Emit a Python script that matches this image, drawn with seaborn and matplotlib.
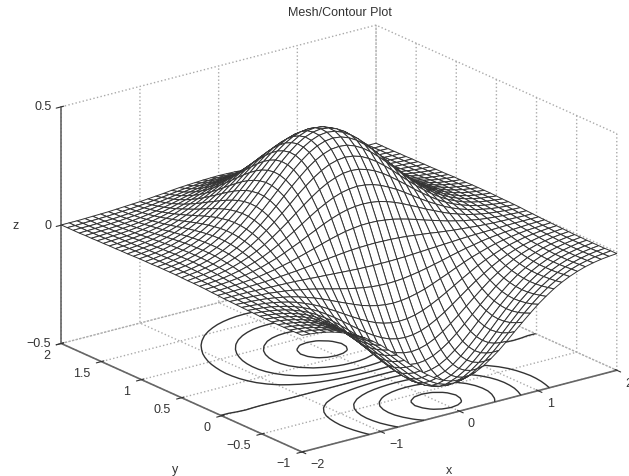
import numpy as np
import matplotlib
matplotlib.use('Agg')
import matplotlib.pyplot as plt
import seaborn as sns

# grid positions of the mesh
x_half = [-2, -1.9, -1.8, -1.7, -1.6, -1.5, -1.4, -1.3, -1.2, -1.1, -1, -0.9, -0.8, -0.7, -0.6, -0.5, -0.4, -0.3, -0.2, -0.1, 0]
y_vals = [-1, -0.925, -0.85, -0.775, -0.7, -0.625, -0.55, -0.475, -0.4, -0.325, -0.25, -0.175, -0.1, -0.025,
          0.05, 0.125, 0.2, 0.275, 0.35, 0.425, 0.5, 0.575, 0.65, 0.725, 0.8, 0.875, 0.95, 1.025, 1.1, 1.175,
          1.25, 1.325, 1.4, 1.475, 1.55, 1.625, 1.7, 1.775, 1.85, 1.925, 2]

# surface heights for x <= 0, one row per y value (the mesh is mirrored around x=0)
z_half = [
    [-.007, -.010, -.014, -.020, -.028, -.039, -.052, -.068, -.087, -.110, -.135, -.164, -.194, -.225, -.257, -.287, -.313, -.336, -.353, -.364, -.368],
    [-.007, -.011, -.015, -.022, -.030, -.041, -.055, -.073, -.093, -.117, -.145, -.175, -.207, -.241, -.274, -.306, -.335, -.359, -.378, -.389, -.393],
    [-.008, -.011, -.016, -.023, -.032, -.043, -.058, -.076, -.098, -.123, -.152, -.184, -.218, -.253, -.288, -.321, -.352, -.377, -.397, -.409, -.413],
    [-.008, -.012, -.017, -.024, -.033, -.045, -.060, -.078, -.101, -.127, -.156, -.189, -.224, -.260, -.297, -.331, -.362, -.388, -.408, -.421, -.425],
    [-.008, -.012, -.017, -.024, -.033, -.045, -.060, -.079, -.102, -.128, -.158, -.191, -.226, -.263, -.299, -.334, -.365, -.392, -.412, -.425, -.429],
    [-.008, -.011, -.017, -.024, -.033, -.045, -.060, -.078, -.100, -.126, -.156, -.188, -.223, -.259, -.295, -.329, -.360, -.386, -.406, -.419, -.423],
    [-.007, -.011, -.016, -.023, -.031, -.043, -.057, -.075, -.096, -.121, -.150, -.181, -.214, -.249, -.284, -.317, -.346, -.372, -.391, -.402, -.407],
    [-.007, -.010, -.015, -.021, -.029, -.040, -.053, -.070, -.090, -.113, -.139, -.169, -.200, -.232, -.264, -.295, -.323, -.346, -.364, -.375, -.379],
    [-.006, -.009, -.013, -.019, -.026, -.036, -.048, -.063, -.081, -.102, -.125, -.152, -.180, -.209, -.238, -.265, -.290, -.311, -.327, -.337, -.341],
    [-.005, -.008, -.011, -.016, -.023, -.031, -.041, -.054, -.069, -.087, -.108, -.130, -.154, -.179, -.204, -.228, -.249, -.267, -.281, -.289, -.292],
    [-.004, -.006, -.009, -.013, -.018, -.025, -.033, -.043, -.056, -.070, -.086, -.105, -.124, -.144, -.164, -.183, -.200, -.215, -.226, -.233, -.235],
    [-.003, -.005, -.007, -.009, -.013, -.018, -.024, -.031, -.040, -.051, -.062, -.075, -.089, -.104, -.118, -.132, -.145, -.155, -.163, -.168, -.170],
    [-.002, -.003, -.004, -.006, -.008, -.010, -.014, -.018, -.023, -.030, -.036, -.044, -.052, -.061, -.069, -.077, -.084, -.090, -.095, -.098, -.099],
    [-.001, -.001, -.001, -.001, -.002, -.003, -.004, -.005, -.006, -.007, -.009, -.011, -.013, -.015, -.017, -.019, -.021, -.023, -.024, -.025, -.025],
    [.001, .001, .002, .003, .004, .005, .007, .009, .012, .015, .018, .022, .026, .031, .035, .039, .043, .046, .048, .049, .050],
    [.002, .003, .005, .007, .010, .013, .017, .023, .029, .037, .045, .055, .065, .075, .086, .096, .105, .113, .118, .122, .123],
    [.004, .005, .008, .011, .015, .020, .027, .035, .046, .057, .071, .086, .101, .118, .134, .150, .164, .176, .185, .190, .192],
    [.005, .007, .010, .014, .020, .027, .036, .047, .060, .076, .094, .113, .134, .156, .178, .199, .217, .233, .245, .252, .255],
    [.006, .008, .012, .017, .024, .033, .044, .057, .073, .092, .114, .138, .163, .190, .216, .241, .264, .283, .297, .307, .310],
    [.006, .010, .014, .020, .027, .037, .050, .065, .084, .106, .131, .158, .187, .217, .248, .276, .302, .324, .341, .351, .355],
    [.007, .011, .015, .022, .030, .041, .055, .072, .092, .116, .143, .173, .205, .239, .272, .303, .332, .356, .374, .386, .389],
    [.008, .011, .016, .023, .032, .044, .058, .076, .098, .123, .152, .184, .218, .253, .288, .322, .352, .378, .397, .409, .413],
    [.008, .012, .017, .024, .033, .045, .060, .079, .101, .127, .157, .190, .225, .261, .297, .332, .363, .389, .409, .422, .426],
    [.008, .012, .017, .024, .033, .045, .060, .079, .102, .128, .158, .191, .226, .263, .299, .334, .365, .392, .412, .424, .429],
    [.008, .011, .017, .023, .033, .044, .059, .078, .100, .126, .155, .188, .222, .258, .294, .329, .359, .385, .405, .418, .422],
    [.007, .011, .016, .023, .031, .043, .057, .075, .096, .121, .150, .181, .215, .249, .284, .317, .347, .372, .391, .403, .407],
    [.007, .010, .015, .021, .030, .041, .054, .071, .091, .115, .142, .171, .203, .236, .269, .300, .328, .352, .370, .381, .385],
    [.007, .010, .014, .020, .028, .038, .051, .066, .085, .107, .132, .159, .189, .220, .250, .279, .305, .328, .344, .355, .359],
    [.006, .009, .013, .018, .025, .035, .046, .061, .078, .098, .121, .146, .173, .201, .229, .255, .279, .300, .315, .325, .328],
    [.005, .008, .012, .016, .023, .031, .042, .055, .070, .088, .109, .131, .156, .181, .206, .230, .252, .270, .284, .292, .295],
    [.005, .007, .010, .015, .020, .028, .037, .048, .062, .078, .096, .117, .138, .161, .183, .204, .223, .239, .252, .259, .262],
    [.004, .006, .009, .013, .018, .024, .032, .042, .054, .068, .084, .102, .121, .140, .160, .178, .195, .209, .220, .227, .229],
    [.004, .005, .008, .011, .015, .021, .028, .036, .047, .059, .073, .088, .104, .121, .138, .154, .168, .180, .190, .195, .197],
    [.003, .005, .007, .009, .013, .018, .024, .031, .040, .050, .062, .075, .088, .103, .117, .130, .143, .153, .161, .166, .168],
    [.003, .004, .006, .008, .011, .015, .020, .026, .033, .042, .052, .062, .074, .086, .098, .109, .120, .128, .135, .139, .140],
    [.002, .003, .005, .006, .009, .012, .016, .021, .027, .035, .043, .052, .061, .071, .081, .090, .099, .106, .111, .115, .116],
    [.002, .003, .004, .005, .007, .010, .013, .017, .022, .028, .035, .042, .050, .058, .066, .074, .081, .086, .091, .094, .095],
    [.001, .002, .003, .004, .006, .008, .011, .014, .018, .023, .028, .034, .040, .047, .053, .059, .065, .069, .073, .075, .076],
    [.001, .002, .002, .003, .005, .006, .008, .011, .014, .018, .022, .027, .032, .037, .042, .047, .051, .055, .058, .060, .060],
    [.001, .001, .002, .003, .004, .005, .007, .009, .011, .014, .017, .021, .025, .029, .033, .037, .040, .043, .045, .047, .047],
    [.001, .001, .001, .002, .003, .004, .005, .007, .009, .011, .013, .016, .019, .022, .026, .029, .031, .033, .035, .036, .037],
]

contour_levels = [-0.4, -0.3, -0.2, -0.1, 0, 0.1, 0.2, 0.3, 0.4]
x_ticks = [-2, -1, 0, 1, 2]
y_ticks = [-1, -0.5, 0, 0.5, 1, 1.5, 2]
z_ticks = [-0.5, 0, 0.5]

sns.set_theme(style='white')
plt.rcParams['font.family'] = ['Liberation Sans', 'DejaVu Sans']
plt.rcParams['axes.unicode_minus'] = False
plt.rcParams['contour.negative_linestyle'] = 'solid'

x_half = np.array(x_half)
z_half = np.array(z_half)
x_vals = np.hstack([x_half, -x_half[-2::-1]])
Z = np.hstack([z_half, z_half[:, -2::-1]])
X, Y = np.meshgrid(x_vals, y_vals)

fig = plt.figure(figsize=(6.29, 4.77), dpi=100)
ax = fig.add_axes([0.0516, -0.1449, 0.9491, 1.2516], projection='3d', proj_type='ortho')
ax.computed_zorder = False
ax.view_init(elev=20, azim=-127.2)
ax.set_box_aspect((397, 400, 253))

ax.contour(X, Y, Z, levels=contour_levels, zdir='z', offset=-0.5, colors='#333333', linewidths=1.0, zorder=1)
ax.plot_surface(X, Y, Z, rstride=1, cstride=1, color='white', edgecolor='#333333', linewidth=0.7, shade=False, zorder=2)

ax.set_xlim(-2, 2, view_margin=0)
ax.set_ylim(-1, 2, view_margin=0)
ax.set_zlim(-0.5, 0.5, view_margin=0)
ax.set_xticks(x_ticks)
ax.set_yticks(y_ticks)
ax.set_zticks(z_ticks)
ax.set_xticklabels(['\u22122', '\u22121', '0', '1', '2'], ha='left', va='center')
ax.set_yticklabels(['\u22121', '\u22120.5', '0', '0.5', '1', '1.5', '2'], ha='right', va='center')
ax.set_zticklabels(['\u22120.5', '0', '0.5'], ha='right', va='center')

for axis in [ax.xaxis, ax.yaxis, ax.zaxis]:
    axis.pane.set_visible(False)
    axis.line.set_color('#666666')
    axis.line.set_linewidth(1.2)
    axis._axinfo['grid'].update(color='#aaaaaa', linestyle=':', linewidth=1.0)
    axis._axinfo['tick']['color'] = '#555555'
    axis._axinfo['tick']['linewidth'] = {True: 0.8, False: 0.5}
ax.zaxis.set_ticks_position('upper')
ax.tick_params(labelsize=9, colors='#333333')
ax.tick_params(axis='x', pad=0)
ax.tick_params(axis='y', pad=0)
ax.tick_params(axis='z', pad=-4)

# axis names and title sit at fixed spots in the figure
fig.text(449 / 629, 1 - 471 / 477, 'x', fontsize=9, color='#333333', ha='center', va='center')
fig.text(175 / 629, 1 - 470 / 477, 'y', fontsize=9, color='#333333', ha='center', va='center')
fig.text(16 / 629, 1 - 226 / 477, 'z', fontsize=9, color='#333333', ha='center', va='center')
fig.text(340 / 629, 1 - 12.5 / 477, 'Mesh/Contour Plot', fontsize=9, color='#333333', ha='center', va='center')

fig.savefig('out.png', dpi=100)
